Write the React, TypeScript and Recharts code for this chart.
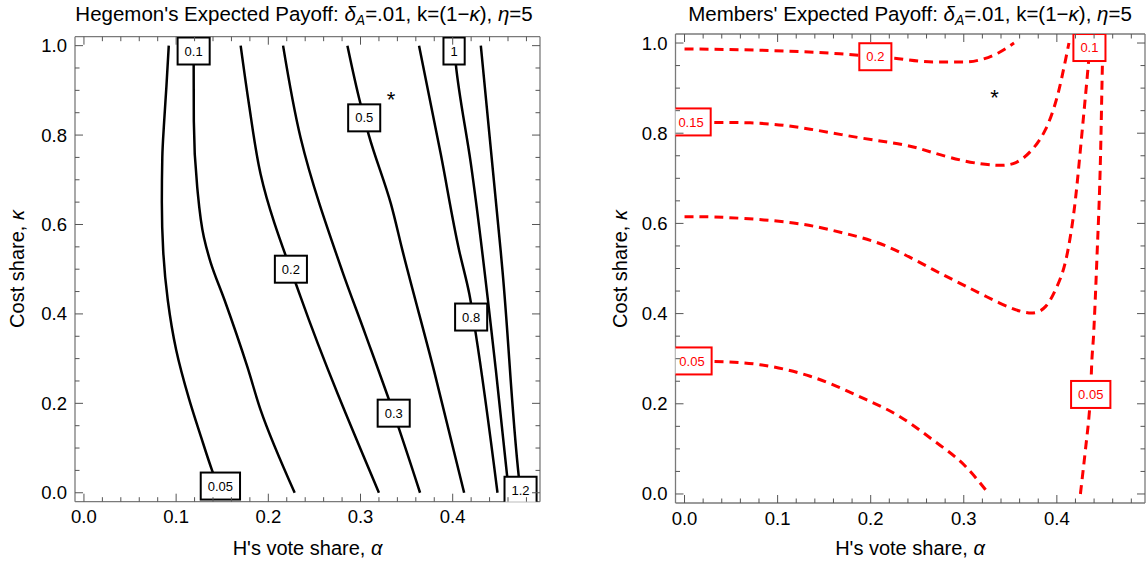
import React from 'react';
import { ComposedChart, Line, Scatter, XAxis, YAxis } from 'recharts';

const FONT = '"Liberation Sans", Arial, Helvetica, sans-serif';
const FRAME = '#7a7a7a';
const TICK = '#555555';

// ---------- axis ticks ----------
const alphaTicks = [0, 0.02, 0.04, 0.06, 0.08, 0.1, 0.12, 0.14, 0.16, 0.18, 0.2, 0.22, 0.24, 0.26, 0.28, 0.3, 0.32, 0.34, 0.36, 0.38, 0.4, 0.42, 0.44, 0.46, 0.48];
const alphaMajor = [0, 0.1, 0.2, 0.3, 0.4];
const kappaTicks = [0, 0.05, 0.1, 0.15, 0.2, 0.25, 0.3, 0.35, 0.4, 0.45, 0.5, 0.55, 0.6, 0.65, 0.7, 0.75, 0.8, 0.85, 0.9, 0.95, 1.0];
const kappaMajor = [0, 0.2, 0.4, 0.6, 0.8, 1.0];
const alphaDomain = [-0.0097, 0.4947];
const kappaDomain = [-0.02, 1.02];

// ---------- Hegemon's expected payoff contours (alpha = a, kappa = k) ----------
const hegemon005 = [
  { a: 0.148, k: 0 }, { a: 0.139, k: 0.05 }, { a: 0.127, k: 0.125 }, { a: 0.114, k: 0.21 },
  { a: 0.1, k: 0.32 }, { a: 0.091, k: 0.43 }, { a: 0.086, k: 0.54 }, { a: 0.0845, k: 0.65 },
  { a: 0.085, k: 0.75 }, { a: 0.087, k: 0.83 }, { a: 0.0895, k: 0.91 }, { a: 0.092, k: 1.0 },
];
const hegemon01 = [
  { a: 0.2286, k: 0 }, { a: 0.1916, k: 0.1855 }, { a: 0.1772, k: 0.282 }, { a: 0.1526, k: 0.4305 },
  { a: 0.1373, k: 0.516 }, { a: 0.1301, k: 0.5715 }, { a: 0.1229, k: 0.683 }, { a: 0.1192, k: 0.831 },
  { a: 0.119, k: 1.0 },
];
const hegemon02 = [
  { a: 0.32, k: 0 }, { a: 0.235, k: 0.438 }, { a: 0.1916, k: 0.713 }, { a: 0.179, k: 0.869 },
  { a: 0.17, k: 1.0 },
];
const hegemon03 = [
  { a: 0.3646, k: 0 }, { a: 0.336, k: 0.178 }, { a: 0.305, k: 0.356 }, { a: 0.28, k: 0.497 },
  { a: 0.235, k: 0.794 }, { a: 0.216, k: 1.0 },
];
const hegemon05 = [
  { a: 0.4124, k: 0 }, { a: 0.38, k: 0.271 }, { a: 0.3455, k: 0.542 }, { a: 0.333, k: 0.646 },
  { a: 0.309, k: 0.8 }, { a: 0.304, k: 0.8385 }, { a: 0.3, k: 0.87 }, { a: 0.2858, k: 1.0 },
];
const hegemon08 = [
  { a: 0.4486, k: 0 }, { a: 0.425, k: 0.356 }, { a: 0.418, k: 0.445 }, { a: 0.407, k: 0.542 },
  { a: 0.387, k: 0.758 }, { a: 0.3635, k: 1.0 },
];
const hegemon1 = [
  { a: 0.461, k: 0 }, { a: 0.4468, k: 0.2746 }, { a: 0.4197, k: 0.736 }, { a: 0.4034, k: 0.958 },
  { a: 0.4015, k: 1.0 },
];
const hegemon12 = [
  { a: 0.4736, k: 0 }, { a: 0.472, k: 0.03 }, { a: 0.454, k: 0.497 }, { a: 0.452, k: 0.542 },
  { a: 0.4305, k: 1.0 },
];
const hegemonLabels = [
  { a: 0.119, k: 0.988, t: '0.1' },
  { a: 0.148, k: 0.015, t: '0.05' },
  { a: 0.2245, k: 0.5, t: '0.2' },
  { a: 0.336, k: 0.178, t: '0.3' },
  { a: 0.304, k: 0.8385, t: '0.5' },
  { a: 0.42, k: 0.393, t: '0.8' },
  { a: 0.4015, k: 0.988, t: '1' },
  { a: 0.4736, k: 0.0056, t: '1.2' },
];

// ---------- Members' expected payoff contours ----------
const members02 = [
  { a: 0, k: 0.987 }, { a: 0.081, k: 0.984 }, { a: 0.167, k: 0.976 }, { a: 0.205, k: 0.9696 },
  { a: 0.2257, k: 0.966 }, { a: 0.2667, k: 0.958 }, { a: 0.302, k: 0.958 }, { a: 0.32, k: 0.964 },
  { a: 0.338, k: 0.979 }, { a: 0.354, k: 1.0 },
];
const members015 = [
  { a: 0, k: 0.825 }, { a: 0.0278, k: 0.824 }, { a: 0.081, k: 0.822 }, { a: 0.135, k: 0.809 },
  { a: 0.188, k: 0.79 }, { a: 0.236, k: 0.774 }, { a: 0.2667, k: 0.757 }, { a: 0.302, k: 0.738 },
  { a: 0.334, k: 0.729 }, { a: 0.356, k: 0.735 }, { a: 0.3736, k: 0.764 }, { a: 0.388, k: 0.809 },
  { a: 0.3986, k: 0.868 }, { a: 0.4057, k: 0.927 }, { a: 0.413, k: 1.0 },
];
const members01 = [
  { a: 0, k: 0.615 }, { a: 0.0457, k: 0.613 }, { a: 0.117, k: 0.601 }, { a: 0.17, k: 0.579 },
  { a: 0.2168, k: 0.5496 }, { a: 0.2667, k: 0.498 }, { a: 0.302, k: 0.461 },
  { a: 0.338, k: 0.424 }, { a: 0.37, k: 0.4015 }, { a: 0.388, k: 0.416 }, { a: 0.3986, k: 0.453 },
  { a: 0.409, k: 0.513 }, { a: 0.418, k: 0.62 }, { a: 0.425, k: 0.757 }, { a: 0.434, k: 0.957 }, { a: 0.435, k: 1.0 },
];
const members005a = [
  { a: 0, k: 0.295 }, { a: 0.0314, k: 0.294 }, { a: 0.081, k: 0.2867 }, { a: 0.135, k: 0.261 },
  { a: 0.188, k: 0.216 }, { a: 0.231, k: 0.172 }, { a: 0.2667, k: 0.12 }, { a: 0.302, k: 0.061 },
  { a: 0.327, k: 0 },
];
const members005b = [
  { a: 0.4253, k: 0 }, { a: 0.4307, k: 0.098 }, { a: 0.435, k: 0.183 }, { a: 0.4364, k: 0.2207 },
  { a: 0.437, k: 0.264 }, { a: 0.4396, k: 0.357 }, { a: 0.443, k: 0.52 }, { a: 0.447, k: 0.757 },
  { a: 0.449, k: 0.957 }, { a: 0.4495, k: 1.0 },
];
const membersLabels = [
  { a: 0.205, k: 0.9696, t: '0.2' },
  { a: 0.007, k: 0.825, t: '0.15' },
  { a: 0.435, k: 0.99, t: '0.1' },
  { a: 0.008, k: 0.295, t: '0.05' },
  { a: 0.4364, k: 0.2207, t: '0.05' },
];

const starPoint = [{ a: 0.333, k: 0.89 }];

// ---------- renderers ----------
const near = (list: number[], v: number) => list.some((m) => Math.abs(m - v) < 1e-9);

const bottomTick = (props: any) => {
  const { x, y, payload } = props;
  const major = near(alphaMajor, payload.value);
  return (
    <g>
      <line x1={x} y1={y} x2={x} y2={y - (major ? 8 : 4.5)} stroke={TICK} strokeWidth={1} />
      {major && (
        <text x={x} y={y + 21.5} textAnchor="middle" fontSize={18.5} fontFamily={FONT} fill="#000">
          {payload.value.toFixed(1)}
        </text>
      )}
    </g>
  );
};
const topTick = (props: any) => {
  const { x, y, payload } = props;
  const major = near(alphaMajor, payload.value);
  return <line x1={x} y1={y} x2={x} y2={y + (major ? 8 : 4.5)} stroke={TICK} strokeWidth={1} />;
};
const leftTick = (props: any) => {
  const { x, y, payload } = props;
  const major = near(kappaMajor, payload.value);
  return (
    <g>
      <line x1={x} y1={y} x2={x + (major ? 8 : 4.5)} y2={y} stroke={TICK} strokeWidth={1} />
      {major && (
        <text x={x - 8} y={y + 6.5} textAnchor="end" fontSize={18.5} fontFamily={FONT} fill="#000">
          {payload.value.toFixed(1)}
        </text>
      )}
    </g>
  );
};
const rightTick = (props: any) => {
  const { x, y, payload } = props;
  const major = near(kappaMajor, payload.value);
  return <line x1={x} y1={y} x2={x - (major ? 8 : 4.5)} y2={y} stroke={TICK} strokeWidth={1} />;
};

const textW = (t: string) => t.split('').reduce((s, c) => s + (c === '.' ? 3.61 : 7.23), 0);

const makeBox = (color: string) => (props: any) => {
  const { cx, cy, payload } = props;
  if (cx == null || cy == null) return <g />;
  const t: string = payload.t;
  const w = textW(t) + 14;
  const h = 27;
  return (
    <g>
      <rect x={cx - w / 2} y={cy - h / 2} width={w} height={h} fill="#fff" stroke={color} strokeWidth={2} />
      <text x={cx} y={cy + 4.6} textAnchor="middle" fontSize={13} fontFamily={FONT} fill={color}>
        {t}
      </text>
    </g>
  );
};

const starShape = (props: any) => {
  const { cx, cy } = props;
  if (cx == null || cy == null) return <g />;
  return (
    <text x={cx} y={cy + 12} textAnchor="middle" fontSize={22} fontFamily={FONT} fill="#000">
      *
    </text>
  );
};

type Curve = 'monotoneX' | 'monotoneY' | 'natural';
type Series = { data: { a: number; k: number }[]; key: string; curve: Curve };

function Panel(props: {
  left: number;
  margin: { top: number; right: number; bottom: number; left: number };
  series: Series[];
  labels: { a: number; k: number; t: string }[];
  color: string;
  dashed: boolean;
}) {
  const { left, margin, series, labels, color, dashed } = props;
  const axisLine = { stroke: FRAME, strokeWidth: 1.3 };
  return (
    <div style={{ position: 'absolute', left, top: 0, width: 574, height: 570 }}>
      <ComposedChart width={574} height={570} margin={margin}>
        <XAxis
          xAxisId="b"
          dataKey="a"
          type="number"
          orientation="bottom"
          domain={alphaDomain}
          ticks={alphaTicks}
          interval={0}
          allowDataOverflow
          tickLine={false}
          tickSize={0}
          tickMargin={0}
          height={30}
          axisLine={axisLine}
          tick={bottomTick}
        />
        <XAxis
          xAxisId="t"
          dataKey="a"
          type="number"
          orientation="top"
          domain={alphaDomain}
          ticks={alphaTicks}
          interval={0}
          allowDataOverflow
          tickLine={false}
          tickSize={0}
          tickMargin={0}
          height={1}
          axisLine={axisLine}
          tick={topTick}
        />
        <YAxis
          yAxisId="l"
          dataKey="k"
          type="number"
          orientation="left"
          domain={kappaDomain}
          ticks={kappaTicks}
          interval={0}
          allowDataOverflow
          tickLine={false}
          tickSize={0}
          tickMargin={0}
          width={45}
          axisLine={axisLine}
          tick={leftTick}
        />
        <YAxis
          yAxisId="r"
          dataKey="k"
          type="number"
          orientation="right"
          domain={kappaDomain}
          ticks={kappaTicks}
          interval={0}
          allowDataOverflow
          tickLine={false}
          tickSize={0}
          tickMargin={0}
          width={1}
          axisLine={axisLine}
          tick={rightTick}
        />
        {series.map((s) => (
          <Line
            key={s.key}
            xAxisId="b"
            yAxisId="l"
            data={s.data}
            dataKey="k"
            type={s.curve}
            stroke={color}
            strokeWidth={dashed ? 3 : 2.5}
            strokeDasharray={dashed ? '9 6' : undefined}
            dot={false}
            activeDot={false}
            isAnimationActive={false}
          />
        ))}
        <Scatter
          xAxisId="b"
          yAxisId="l"
          data={labels}
          dataKey="k"
          shape={makeBox(color)}
          isAnimationActive={false}
        />
        <Scatter
          xAxisId="b"
          yAxisId="l"
          data={starPoint}
          dataKey="k"
          shape={starShape}
          isAnimationActive={false}
        />
      </ComposedChart>
    </div>
  );
}

export default function App() {
  const hegemonSeries: Series[] = [
    { data: hegemon005, key: 'h005', curve: 'monotoneY' },
    { data: hegemon01, key: 'h01', curve: 'monotoneY' },
    { data: hegemon02, key: 'h02', curve: 'monotoneY' },
    { data: hegemon03, key: 'h03', curve: 'monotoneY' },
    { data: hegemon05, key: 'h05', curve: 'monotoneY' },
    { data: hegemon08, key: 'h08', curve: 'monotoneY' },
    { data: hegemon1, key: 'h1', curve: 'monotoneY' },
    { data: hegemon12, key: 'h12', curve: 'monotoneY' },
  ];
  const membersSeries: Series[] = [
    { data: members02, key: 'm02', curve: 'monotoneX' },
    { data: members015, key: 'm015', curve: 'natural' },
    { data: members01, key: 'm01', curve: 'natural' },
    { data: members005a, key: 'm005a', curve: 'monotoneX' },
    { data: members005b, key: 'm005b', curve: 'monotoneX' },
  ];
  return (
    <div
      style={{
        position: 'absolute',
        left: 0,
        top: 0,
        width: 1148,
        height: 570,
        background: '#fff',
        overflow: 'hidden',
        fontFamily: FONT,
      }}
    >
      <svg width={1148} height={570} style={{ position: 'absolute', left: 0, top: 0 }}>
        <text x={304} y={21} textAnchor="middle" fontSize={20.5} fontFamily={FONT} fill="#000">
          Hegemon's Expected Payoff: <tspan fontStyle="italic">δ</tspan>
          <tspan fontStyle="italic" fontSize={14} dy={4}>A</tspan>
          <tspan dy={-4}>=.01, k=(1−</tspan>
          <tspan fontStyle="italic">κ</tspan>), <tspan fontStyle="italic">η</tspan>=5
        </text>
        <text x={910} y={21} textAnchor="middle" fontSize={20.5} fontFamily={FONT} fill="#000">
          Members' Expected Payoff: <tspan fontStyle="italic">δ</tspan>
          <tspan fontStyle="italic" fontSize={14} dy={4}>A</tspan>
          <tspan dy={-4}>=.01, k=(1−</tspan>
          <tspan fontStyle="italic">κ</tspan>), <tspan fontStyle="italic">η</tspan>=5
        </text>
        <text x={307.5} y={555} textAnchor="middle" fontSize={20} fontFamily={FONT} fill="#000">
          H's vote share, <tspan fontStyle="italic">α</tspan>
        </text>
        <text x={910} y={555} textAnchor="middle" fontSize={20} fontFamily={FONT} fill="#000">
          H's vote share, <tspan fontStyle="italic">α</tspan>
        </text>
        <text
          x={24}
          y={269}
          textAnchor="middle"
          fontSize={20}
          fontFamily={FONT}
          fill="#000"
          transform="rotate(-90 24 269)"
        >
          Cost share, <tspan fontStyle="italic">κ</tspan>
        </text>
        <text
          x={627}
          y={269}
          textAnchor="middle"
          fontSize={20}
          fontFamily={FONT}
          fill="#000"
          transform="rotate(-90 627 269)"
        >
          Cost share, <tspan fontStyle="italic">κ</tspan>
        </text>
      </svg>
      <Panel
        left={0}
        margin={{ top: 35.7, right: 33, bottom: 38.3, left: 30 }}
        series={hegemonSeries}
        labels={hegemonLabels}
        color="#000"
        dashed={false}
      />
      <Panel
        left={574}
        margin={{ top: 33, right: 2, bottom: 37, left: 56.5 }}
        series={membersSeries}
        labels={membersLabels}
        color="#ff0000"
        dashed={true}
      />
    </div>
  );
}
